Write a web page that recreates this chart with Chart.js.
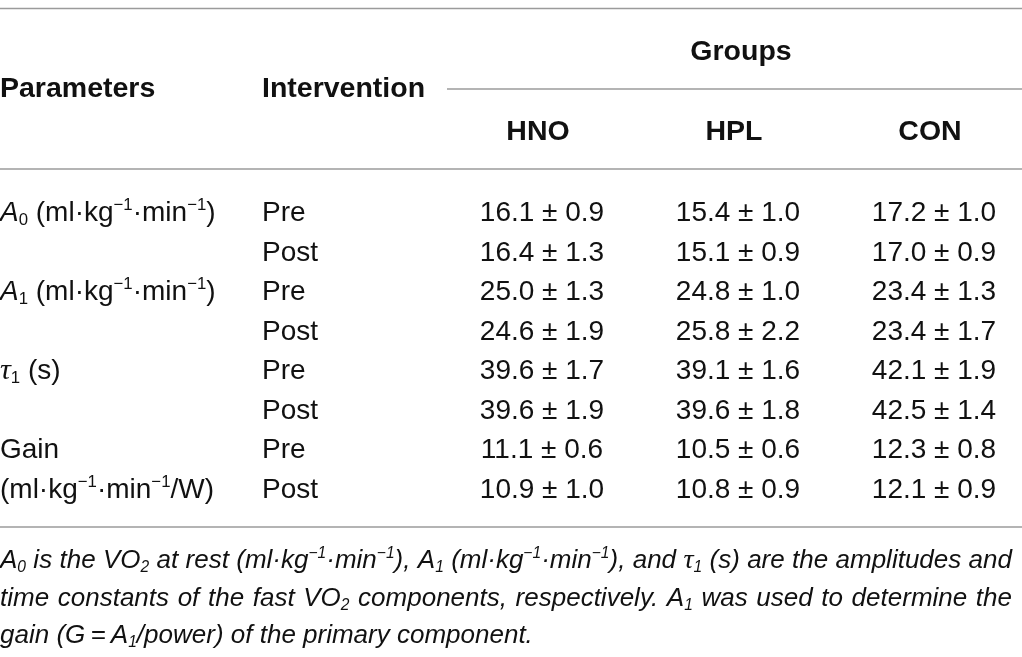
<!DOCTYPE html>
<html>
  <head>
    <title>VO2 kinetics table</title>
    <script src="https://cdn.jsdelivr.net/npm/chart.js"></script>
    <style>
      html, body { margin: 0; padding: 0; background: #fff; }
      #wrap { width: 1022px; height: 657px; position: relative; }
    </style>
  </head>
  <body>
    <div id="wrap"><canvas id="table"></canvas></div>
    <script>
      // columns and rows of the table
      const groups = ["HNO", "HPL", "CON"];
      const rowKeys = ["r0", "r1", "r2", "r3", "r4", "r5", "r6", "r7"];
      const parameters = [
        "*A*_{0} (ml·kg^{−1}·min^{−1})", "",
        "*A*_{1} (ml·kg^{−1}·min^{−1})", "",
        "τ_{1} (s)", "",
        "Gain", "(ml·kg^{−1}·min^{−1}/W)",
      ];
      const interventions = ["Pre", "Post", "Pre", "Post", "Pre", "Post", "Pre", "Post"];

      // mean and SD per group
      const hnoMean = [16.1, 16.4, 25.0, 24.6, 39.6, 39.6, 11.1, 10.9];
      const hnoSD = [0.9, 1.3, 1.3, 1.9, 1.7, 1.9, 0.6, 1.0];
      const hplMean = [15.4, 15.1, 24.8, 25.8, 39.1, 39.6, 10.5, 10.8];
      const hplSD = [1.0, 0.9, 1.0, 2.2, 1.6, 1.8, 0.6, 0.9];
      const conMean = [17.2, 17.0, 23.4, 23.4, 42.1, 42.5, 12.3, 12.1];
      const conSD = [1.0, 0.9, 1.3, 1.7, 1.9, 1.4, 0.8, 0.9];

      const footnote = [
        "*A_{0} is the VO_{2} at rest (ml·kg^{−1}·min^{−1}), A_{1} (ml·kg^{−1}·min^{−1}), and τ_{1} (s) are the amplitudes and*",
        "*time constants of the fast VO_{2} components, respectively. A_{1} was used to determine the*",
        "*gain (G\u2009=\u2009A_{1}/power) of the primary component.*",
      ];

      const SANS = "'Liberation Sans', Arial, Helvetica, sans-serif";
      const SERIF = "'Liberation Serif', 'DejaVu Serif', serif";
      const TEXT = "#111";
      const RULE = "#9b9b9b";
      const SIZE = 28;
      const HEAD = 28.5;
      const NOTE = 26;

      // tiny markup: *italic*, _{sub}, ^{sup}
      function parseRich(s) {
        const out = [];
        let it = false, buf = "", i = 0;
        const push = (t, k) => { if (t) out.push({ t, it, k }); };
        while (i < s.length) {
          const c = s[i];
          if (c === "*") { push(buf, "n"); buf = ""; it = !it; i++; }
          else if ((c === "_" || c === "^") && s[i + 1] === "{") {
            push(buf, "n"); buf = "";
            const j = s.indexOf("}", i);
            push(s.slice(i + 2, j), c === "_" ? "sub" : "sup");
            i = j + 1;
          } else { buf += c; i++; }
        }
        push(buf, "n");
        // greek tau gets its own serif piece, spaces split so they can be stretched
        const res = [];
        out.forEach((seg) => {
          seg.t.split(/(τ| )/).forEach((p) => {
            if (p) res.push({ t: p, it: seg.it || p === "τ", k: seg.k, g: p === "τ" });
          });
        });
        return res;
      }

      function segFont(seg, size, bold) {
        let s = seg.k === "n" ? size : size * 0.6;
        if (seg.g) s = size * 1.08;
        return (seg.it ? "italic " : "") + (bold ? "bold " : "") + s + "px " + (seg.g ? SERIF : SANS);
      }

      function richWidth(ctx, segs, size, bold) {
        let w = 0;
        segs.forEach((seg) => { ctx.font = segFont(seg, size, bold); w += ctx.measureText(seg.t).width; });
        return w;
      }

      function drawRich(ctx, str, x, y, size, opt) {
        opt = opt || {};
        const segs = parseRich(str);
        let w = richWidth(ctx, segs, size, opt.bold);
        let extra = 0;
        if (opt.justify) {
          const gaps = segs.filter((s) => s.t === " ").length;
          if (gaps && opt.justify > w) { extra = (opt.justify - w) / gaps; w = opt.justify; }
        }
        if (opt.align === "center") x -= w / 2;
        ctx.textAlign = "left";
        ctx.textBaseline = "alphabetic";
        segs.forEach((seg) => {
          ctx.font = segFont(seg, size, opt.bold);
          let dy = 0;
          if (seg.k === "sup") dy = -size * 0.38;
          if (seg.k === "sub") dy = size * 0.16;
          ctx.fillText(seg.t, x, y + dy);
          x += ctx.measureText(seg.t).width + (seg.t === " " ? extra : 0);
        });
      }

      function hline(ctx, x1, x2, y) {
        ctx.beginPath();
        ctx.moveTo(x1, y);
        ctx.lineTo(x2, y);
        ctx.stroke();
      }

      const tablePlugin = {
        id: "tableText",
        afterDatasetsDraw(chart) {
          const ctx = chart.ctx;
          const xs = chart.scales.x;
          const ys = chart.scales.y;
          const W = chart.width;
          const base = 10; // baseline offset below row centre
          ctx.save();
          ctx.fillStyle = TEXT;

          // rules
          ctx.strokeStyle = RULE;
          ctx.lineWidth = 1.6;
          hline(ctx, 0, W, 8.5);
          hline(ctx, 447, W, 89);
          hline(ctx, 0, W, 169);
          hline(ctx, 0, W, 527);

          // header
          drawRich(ctx, "Parameters", 0, 97, HEAD, { bold: true });
          drawRich(ctx, "Intervention", 262, 97, HEAD, { bold: true });
          drawRich(ctx, "Groups", 741, 60, HEAD, { bold: true, align: "center" });
          groups.forEach((g, i) => {
            drawRich(ctx, g, xs.getPixelForValue(i) - 4, 140, HEAD, { bold: true, align: "center" });
          });

          // row labels
          rowKeys.forEach((k, i) => {
            const y = ys.getPixelForValue(i) + base;
            if (parameters[i]) drawRich(ctx, parameters[i], 0, y, SIZE);
            drawRich(ctx, interventions[i], 262, y, SIZE);
          });

          // cells: mean ± SD at each point of the dataset
          chart.data.datasets.forEach((ds, d) => {
            chart.getDatasetMeta(d).data.forEach((pt, i) => {
              const txt = ds.mean[i].toFixed(1) + " ± " + ds.sd[i].toFixed(1);
              drawRich(ctx, txt, pt.x, pt.y + base, SIZE, { align: "center" });
            });
          });

          // footnote
          footnote.forEach((line, i) => {
            drawRich(ctx, line, 0, 568 + i * 37.5, NOTE, { justify: i < footnote.length - 1 ? 1012 : 0 });
          });
          ctx.restore();
        },
      };

      function cells(name, mean, sd) {
        return {
          label: name,
          data: rowKeys.map((k) => ({ x: name, y: k })),
          mean: mean,
          sd: sd,
          pointRadius: 0,
          showLine: false,
        };
      }

      new Chart(document.getElementById("table"), {
        type: "scatter",
        data: {
          datasets: [
            cells("HNO", hnoMean, hnoSD),
            cells("HPL", hplMean, hplSD),
            cells("CON", conMean, conSD),
          ],
        },
        options: {
          responsive: true,
          maintainAspectRatio: false,
          animation: false,
          events: [],
          layout: { padding: { left: 542, right: 1022 - 934, top: 211, bottom: 657 - 487.5 } },
          plugins: { legend: { display: false }, tooltip: { enabled: false } },
          scales: {
            x: { type: "category", labels: groups, offset: false, display: false },
            y: { type: "category", labels: rowKeys, offset: false, display: false },
          },
        },
        plugins: [tablePlugin],
      });
    </script>
  </body>
</html>
